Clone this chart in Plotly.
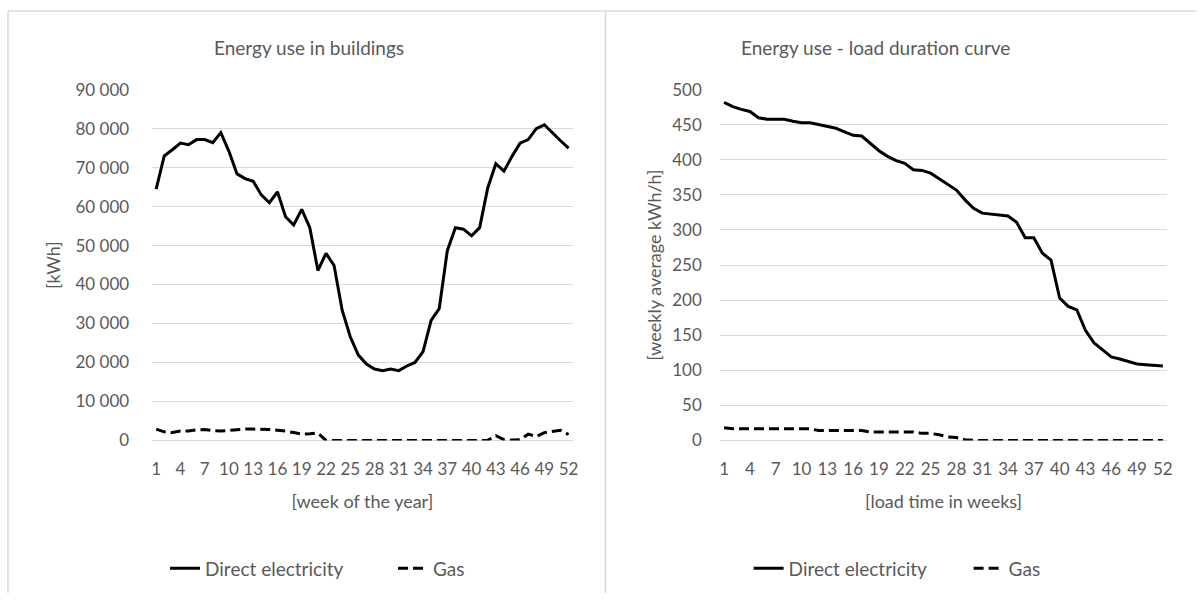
import plotly.graph_objects as go

# ---- data -------------------------------------------------------------
weeks = list(range(1, 53))
week_ticks = list(range(1, 53, 3))

# weekly energy use in buildings [kWh]
electricity_kwh = [
    64500, 73000, 74600, 76300, 75900, 77200, 77200, 76400, 79000, 74200,
    68400, 67200, 66500, 63000, 61000, 63800, 57400, 55300, 59300, 54600,
    43600, 48000, 44900, 33400, 26600, 21900, 19600, 18300, 17900, 18300,
    17900, 19100, 20000, 22800, 30800, 33800, 48700, 54600, 54200, 52500,
    54600, 64800, 71000, 69100, 72900, 76300, 77200, 80000, 81000, 78900,
    76900, 75000,
]
gas_kwh = [
    2900, 2200, 2000, 2400, 2400, 2700, 2800, 2500, 2400, 2600,
    2800, 2900, 2900, 2900, 2800, 2600, 2400, 2000, 1600, 1700,
    1900, 0, 0, 0, 0, 0, 0, 0, 0, 0,
    0, 0, 0, 0, 0, 0, 0, 0, 0, 0,
    0, 0, 1200, 200, 100, 200, 1600, 1000, 2000, 2300,
    2600, 1500,
]

# load duration curve, weekly average [kWh/h], sorted descending
load_electricity = [
    482, 476, 472, 469, 460, 458, 458, 458, 455, 453,
    453, 450, 448, 445, 440, 435, 434, 423, 413, 405,
    399, 395, 386, 385, 381, 373, 365, 357, 343, 331,
    324, 323, 322, 320, 311, 289, 289, 267, 257, 203,
    191, 186, 157, 139, 129, 119, 116, 112, 109, 108,
    107, 106,
]
load_gas = [
    18, 16.5, 16.5, 16.5, 16.5, 16.5, 16.5, 16.5, 16.5, 16.5,
    16.5, 14, 14, 14, 14, 14, 14, 12, 12, 12,
    12, 12, 12, 10, 10, 8, 5, 4, 1, 0,
    0, 0, 0, 0, 0, 0, 0, 0, 0, 0,
    0, 0, 0, 0, 0, 0, 0, 0, 0, 0,
    0, 0,
]

# ---- page geometry ----------------------------------------------------
W, H = 1203, 603
FONT = "Lato, 'Open Sans', sans-serif"
TEXT = "#595959"
GRID = "#d9d9d9"
Y_SCALE, Y_MID = 0.973, 301.0


def fx(px):
    return px / W


def fy(py):
    y = Y_MID + (py - Y_MID) / Y_SCALE
    return min(1.0, max(0.0, 1 - y / H))


solid = dict(color="black", width=3)
dashed = dict(color="black", width=3, dash="10px,5px")

fig = go.Figure()
fig.add_trace(go.Scatter(x=weeks, y=electricity_kwh, name="Direct electricity",
                         mode="lines", line=solid, xaxis="x", yaxis="y",
                         legend="legend"))
fig.add_trace(go.Scatter(x=weeks, y=gas_kwh, name="Gas", mode="lines",
                         line=dashed, xaxis="x", yaxis="y", legend="legend"))
fig.add_trace(go.Scatter(x=weeks, y=load_electricity, name="Direct electricity",
                         mode="lines", line=solid, xaxis="x2", yaxis="y2",
                         legend="legend2"))
fig.add_trace(go.Scatter(x=weeks, y=load_gas, name="Gas", mode="lines",
                         line=dashed, xaxis="x2", yaxis="y2",
                         legend="legend2"))

tickfont = dict(family=FONT, size=17, color=TEXT)
titlefont = dict(family=FONT, size=18, color=TEXT)
legendfont = dict(family=FONT, size=19, color=TEXT)
ydom = [fy(441), fy(87.5)]

xcommon = dict(range=[0.5, 52.5], tickmode="array", tickvals=week_ticks,
               showgrid=False, zeroline=False, showline=False, ticks="",
               tickfont=tickfont, ticklabelstandoff=17, fixedrange=True)
ycommon = dict(showgrid=True, gridcolor=GRID, gridwidth=1, zeroline=True,
               zerolinecolor=GRID, zerolinewidth=1, showline=False, ticks="",
               tickfont=tickfont, fixedrange=True)
legend_common = dict(orientation="h", xanchor="left", yanchor="middle",
                     y=fy(570), font=legendfont, bgcolor="rgba(0,0,0,0)",
                     entrywidthmode="pixels")

fig.update_layout(
    width=W, height=H,
    margin=dict(l=0, r=0, t=0, b=0),
    paper_bgcolor="white", plot_bgcolor="white",
    separators=". ",
    font=dict(family=FONT, color=TEXT),
    xaxis=dict(domain=[fx(152), fx(575)], anchor="y",
               title=dict(text="[week of the year]", font=titlefont, standoff=17),
               **xcommon),
    yaxis=dict(domain=ydom, anchor="x", range=[0, 90000], dtick=10000,
               tickformat=",d", ticklabelstandoff=22,
               title=dict(text="[kWh]", font=titlefont, standoff=10),
               **ycommon),
    xaxis2=dict(domain=[fx(723), fx(1173)], anchor="y2",
                title=dict(text="[load time in weeks]", font=titlefont, standoff=17),
                **xcommon),
    yaxis2=dict(domain=ydom, anchor="x2", range=[0, 500], dtick=50,
                ticklabelstandoff=17,
                title=dict(text="[weekly average kWh/h]", font=titlefont, standoff=5),
                **ycommon),
    legend=dict(x=fx(165), entrywidth=183, **legend_common),
    legend2=dict(x=fx(752), entrywidth=175, **legend_common),
    annotations=[
        dict(text="Energy use in buildings", x=fx(310), y=fy(45),
             xref="paper", yref="paper", xanchor="center", yanchor="middle",
             showarrow=False, font=dict(family=FONT, size=19, color=TEXT)),
        dict(text="Energy use - load duration curve", x=fx(880), y=fy(45),
             xref="paper", yref="paper", xanchor="center", yanchor="middle",
             showarrow=False, font=dict(family=FONT, size=19, color=TEXT)),
    ],
    shapes=[
        dict(type="line", xref="paper", yref="paper", x0=fx(7), x1=1,
             y0=fy(5), y1=fy(5), line=dict(color=GRID, width=1.5)),
        dict(type="line", xref="paper", yref="paper", x0=fx(7), x1=fx(7),
             y0=0, y1=fy(5), line=dict(color=GRID, width=1.5)),
        dict(type="line", xref="paper", yref="paper", x0=fx(608), x1=fx(608),
             y0=0, y1=fy(5), line=dict(color=GRID, width=1.5)),
    ],
    showlegend=True,
)

fig.write_html("out.html")
